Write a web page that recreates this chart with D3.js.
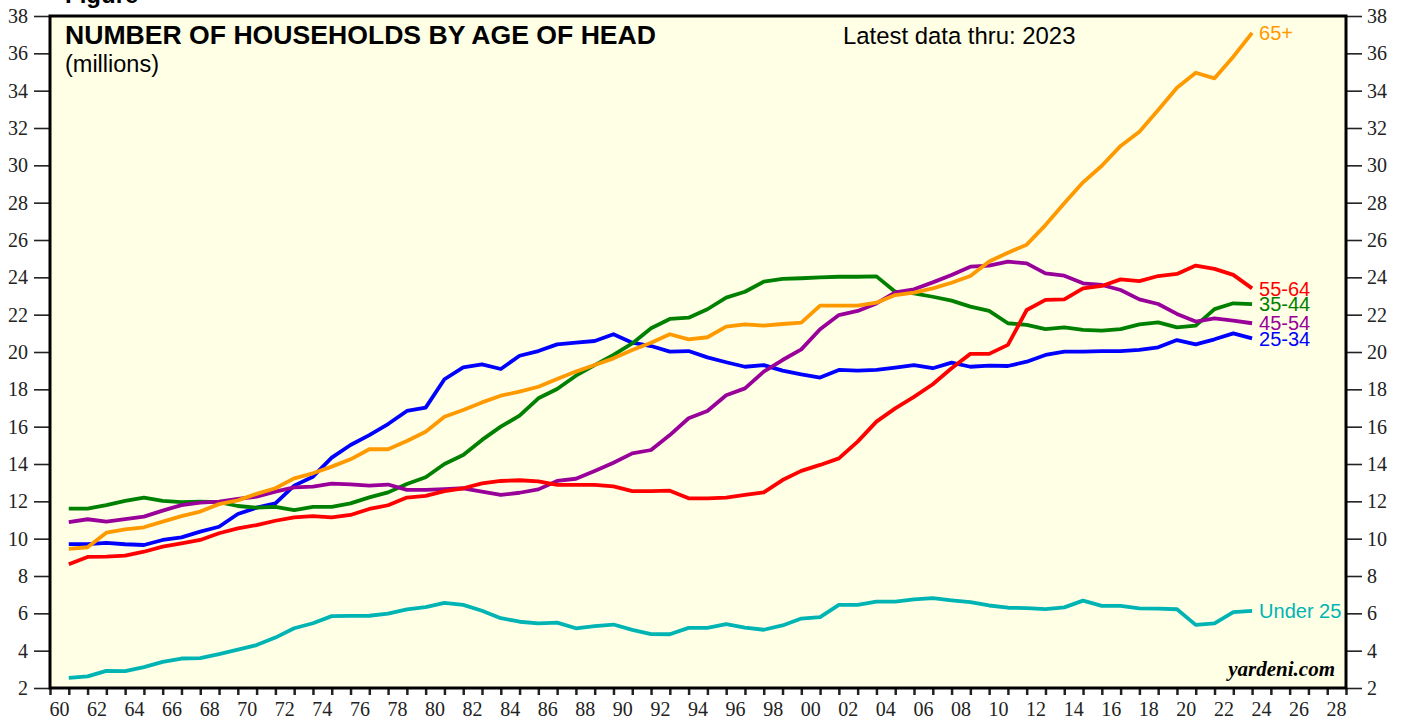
<!DOCTYPE html>
<html>
<head>
<meta charset="utf-8">
<script src="https://cdn.jsdelivr.net/npm/d3@7"></script>
<style>
  body { margin: 0; background: #fff; }
  svg { display: block; }
</style>
</head>
<body>
<div id="chart1"></div>
<script>
// annual data, millions of households by age of head
var years = d3.range(1960, 2024);

var under25 = [2.54, 2.62, 2.92, 2.9, 3.12, 3.4, 3.58, 3.6, 3.82, 4.06, 4.3, 4.7, 5.2, 5.47, 5.85, 5.86, 5.87, 5.98, 6.21, 6.33, 6.56,
  6.45, 6.14, 5.74, 5.55, 5.46, 5.5, 5.2, 5.31, 5.4, 5.11, 4.89, 4.88, 5.22, 5.22, 5.42, 5.24, 5.12, 5.35, 5.72, 5.8,
  6.45, 6.45, 6.63, 6.63, 6.75, 6.82, 6.7, 6.6, 6.42, 6.3, 6.28, 6.22, 6.32, 6.68, 6.4, 6.4, 6.27, 6.25, 6.22, 5.38,
  5.46, 6.07, 6.13];

var age25_34 = [9.71, 9.71, 9.78, 9.7, 9.66, 9.93, 10.07, 10.38, 10.64, 11.32, 11.66, 11.89, 12.84, 13.32, 14.34, 15.02, 15.55, 16.14, 16.84, 17.02, 18.54,
  19.18, 19.34, 19.09, 19.8, 20.05, 20.41, 20.5, 20.59, 20.95, 20.5, 20.32, 20.02, 20.05, 19.71, 19.45, 19.21, 19.3, 19.0, 18.8, 18.63,
  19.04, 19.0, 19.04, 19.16, 19.3, 19.13, 19.43, 19.21, 19.27, 19.25, 19.48, 19.84, 20.02, 20.02, 20.05, 20.05, 20.11, 20.25, 20.64, 20.41,
  20.68, 21.0, 20.73];

var age35_44 = [11.61, 11.61, 11.8, 12.02, 12.2, 12.02, 11.96, 11.98, 11.96, 11.75, 11.66, 11.7, 11.53, 11.7, 11.7, 11.89, 12.21, 12.48, 12.93, 13.29, 14.0,
  14.48, 15.29, 16.0, 16.59, 17.52, 18.02, 18.73, 19.3, 19.84, 20.46, 21.27, 21.77, 21.84, 22.29, 22.91, 23.23, 23.77, 23.92, 23.95, 24.0,
  24.03, 24.03, 24.05, 23.23, 23.14, 22.96, 22.75, 22.43, 22.2, 21.54, 21.45, 21.23, 21.32, 21.18, 21.14, 21.23, 21.48, 21.59, 21.32, 21.41,
  22.3, 22.61, 22.57];

var age45_54 = [10.89, 11.04, 10.91, 11.05, 11.18, 11.5, 11.8, 11.93, 11.98, 12.13, 12.25, 12.52, 12.75, 12.79, 12.95, 12.91, 12.84, 12.9, 12.61, 12.61, 12.65,
  12.7, 12.52, 12.34, 12.46, 12.64, 13.09, 13.21, 13.63, 14.07, 14.57, 14.75, 15.55, 16.45, 16.84, 17.68, 18.05, 18.95, 19.57, 20.14, 21.22,
  21.98, 22.2, 22.6, 23.19, 23.36, 23.73, 24.13, 24.57, 24.63, 24.84, 24.75, 24.21, 24.09, 23.68, 23.59, 23.32, 22.82, 22.57, 22.04, 21.63,
  21.8, 21.68, 21.54];

var age55_64 = [8.63, 9.02, 9.04, 9.09, 9.3, 9.57, 9.75, 9.93, 10.29, 10.55, 10.73, 10.96, 11.14, 11.21, 11.14, 11.27, 11.59, 11.79, 12.2, 12.29, 12.55,
  12.7, 12.96, 13.09, 13.13, 13.07, 12.88, 12.88, 12.88, 12.8, 12.55, 12.55, 12.57, 12.16, 12.16, 12.2, 12.34, 12.48, 13.14, 13.63, 13.95,
  14.3, 15.2, 16.27, 16.98, 17.6, 18.27, 19.13, 19.9, 19.9, 20.38, 22.25, 22.79, 22.82, 23.41, 23.54, 23.89, 23.8, 24.07, 24.18, 24.63,
  24.45, 24.13, 23.41];

var age65plus = [9.45, 9.54, 10.32, 10.5, 10.61, 10.91, 11.21, 11.45, 11.85, 12.05, 12.4, 12.7, 13.23, 13.5, 13.86, 14.25, 14.79, 14.79, 15.23, 15.73, 16.53,
  16.89, 17.3, 17.66, 17.88, 18.14, 18.55, 18.95, 19.3, 19.66, 20.11, 20.5, 20.95, 20.68, 20.79, 21.36, 21.48, 21.41, 21.5, 21.57, 22.48,
  22.48, 22.48, 22.64, 23.05, 23.18, 23.41, 23.71, 24.07, 24.85, 25.32, 25.75, 26.8, 27.97, 29.09, 29.98, 31.04, 31.8, 32.96, 34.16, 34.96,
  34.66, 35.82, 37.1];

var seriesNames = ["Under 25", "25-34", "35-44", "45-54", "55-64", "65+"];
var seriesColors = ["#00b4b4", "#0000ff", "#008000", "#990099", "#ff0000", "#ff9900"];
var seriesValues = [under25, age25_34, age35_44, age45_54, age55_64, age65plus];

var yTicks = d3.range(2, 39, 2);
var xTicks = d3.range(1960, 2030);
var xLabels = d3.range(1960, 2029, 2);

var svg = d3.select("#chart1").append("svg").attr("width", 1405).attr("height", 719),
    plotLeft = 50, plotRight = 1346, plotTop = 16, plotBottom = 688;

var x = d3.scaleLinear().domain([1960, 2029]).range([plotLeft, plotRight]);
var y = d3.scaleLinear().domain([2, 38]).range([plotBottom, plotTop]);

// background panel
svg.append("rect")
    .attr("x", plotLeft).attr("y", plotTop)
    .attr("width", plotRight - plotLeft).attr("height", plotBottom - plotTop)
    .style("fill", "#ffffe6");

// cut-off figure caption at the very top
svg.append("text")
    .attr("x", 65).attr("y", 3)
    .style("font-family", "Liberation Sans, Arial, sans-serif")
    .style("font-weight", "bold").style("font-size", "24px")
    .text("Figure");

// y axes on both sides
var yLeft = svg.append("g")
    .attr("transform", "translate(" + plotLeft + ",0)")
    .call(d3.axisLeft(y).tickValues(yTicks).tickSize(16).tickPadding(6));
var yRight = svg.append("g")
    .attr("transform", "translate(" + plotRight + ",0)")
    .call(d3.axisRight(y).tickValues(yTicks).tickSize(16).tickPadding(5));

[yLeft, yRight].forEach(function(g) {
    g.select(".domain").remove();
    g.selectAll("line").style("stroke", "#222").style("stroke-width", "1.6px");
    g.selectAll("text")
        .style("font-family", "Liberation Serif, Times New Roman, serif")
        .style("font-size", "20px").style("fill", "#222");
});

// x axis: a tick at each year boundary, labels every other year in the middle
var xAxis = svg.append("g")
    .attr("transform", "translate(0," + plotBottom + ")")
    .call(d3.axisBottom(x).tickValues(xTicks).tickSize(7).tickFormat(""));
xAxis.select(".domain").remove();
xAxis.selectAll("line").style("stroke", "#222").style("stroke-width", "2.5px");

svg.append("g")
    .selectAll("text")
    .data(xLabels)
    .enter().append("text")
    .attr("x", function(d) { return x(d + 0.5); })
    .attr("y", 716)
    .attr("text-anchor", "middle")
    .style("font-family", "Liberation Serif, Times New Roman, serif")
    .style("font-size", "20px").style("fill", "#222")
    .text(function(d) { return String(d).slice(2); });

// lines, annual values plotted at year end
var line = d3.line()
    .x(function(d) { return x(d.year + 1); })
    .y(function(d) { return y(d.value); });

var series = seriesNames.map(function(name, i) {
    return {
        name: name,
        color: seriesColors[i],
        points: years.map(function(yr, j) { return {year: yr, value: seriesValues[i][j]}; })
    };
});

svg.append("g")
    .selectAll("path")
    .data(series)
    .enter().append("path")
    .attr("d", function(d) { return line(d.points); })
    .style("fill", "none")
    .style("stroke", function(d) { return d.color; })
    .style("stroke-width", "3.8px")
    .style("stroke-linejoin", "round");

svg.append("g")
    .selectAll("text")
    .data(series)
    .enter().append("text")
    .attr("x", function(d) { return x(d.points[d.points.length - 1].year + 1) + 7; })
    .attr("y", function(d) { return y(d.points[d.points.length - 1].value); })
    .attr("dy", "0.36em")
    .style("font-family", "Liberation Sans, Arial, sans-serif")
    .style("font-size", "20px")
    .style("fill", function(d) { return d.color; })
    .text(function(d) { return d.name; });

// frame
svg.append("rect")
    .attr("x", plotLeft).attr("y", plotTop)
    .attr("width", plotRight - plotLeft).attr("height", plotBottom - plotTop)
    .style("fill", "none").style("stroke", "#000").style("stroke-width", "3px");

// titles
svg.append("text")
    .attr("x", 65).attr("y", 44)
    .style("font-family", "Liberation Sans, Arial, sans-serif")
    .style("font-weight", "bold").style("font-size", "26.6px")
    .text("NUMBER OF HOUSEHOLDS BY AGE OF HEAD");

svg.append("text")
    .attr("x", 65).attr("y", 72)
    .style("font-family", "Liberation Sans, Arial, sans-serif")
    .style("font-size", "23.5px")
    .text("(millions)");

svg.append("text")
    .attr("x", 843).attr("y", 44)
    .style("font-family", "Liberation Sans, Arial, sans-serif")
    .style("font-size", "23.9px")
    .text("Latest data thru: 2023");

svg.append("text")
    .attr("x", 1335).attr("y", 676)
    .attr("text-anchor", "end")
    .style("font-family", "Liberation Serif, Times New Roman, serif")
    .style("font-weight", "bold").style("font-style", "italic")
    .style("font-size", "21px")
    .text("yardeni.com");
</script>
</body>
</html>
